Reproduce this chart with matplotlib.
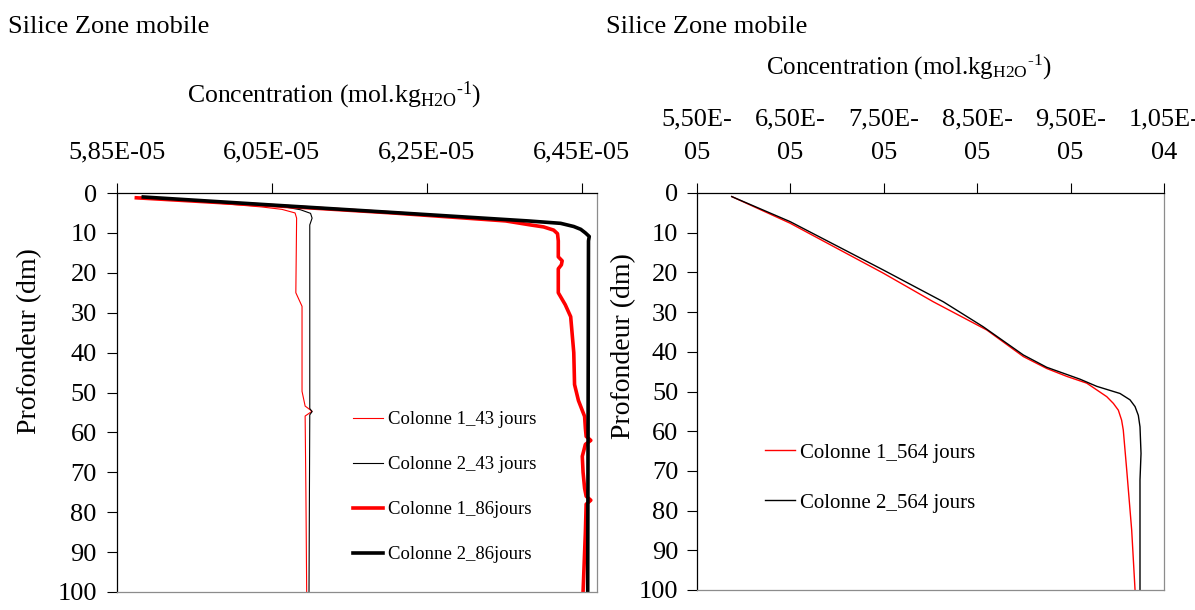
import matplotlib
matplotlib.use("Agg")
import matplotlib.pyplot as plt

plt.rcParams['font.family'] = ['Liberation Serif', 'DejaVu Serif']
plt.rcParams['mathtext.fontset'] = 'custom'
plt.rcParams['mathtext.rm'] = 'Liberation Serif'
plt.rcParams['mathtext.it'] = 'Liberation Serif:italic'

# ---------------- data: left panel (43 / 86 jours) ----------------
c1_43_depth = [1.2, 2.5, 3.5, 4.1, 5.0, 6.3, 25, 28.4, 49.7, 53.4, 54.7, 55.9, 75, 100]
c1_43_conc = [5.875e-5, 5.977e-5, 6.037e-5, 6.063e-5, 6.080e-5, 6.082e-5, 6.081e-5,
              6.089e-5, 6.089e-5, 6.093e-5, 6.102e-5, 6.093e-5, 6.094e-5, 6.095e-5]

c2_43_depth = [1.0, 2.3, 3.3, 4.2, 5.1, 6.3, 8, 54, 54.8, 55.6, 100]
c2_43_conc = [5.881e-5, 5.983e-5, 6.061e-5, 6.087e-5, 6.100e-5, 6.102e-5, 6.099e-5,
              6.099e-5, 6.102e-5, 6.099e-5, 6.098e-5]

c1_86_depth = [1.2, 3, 5, 7, 8, 8.5, 9.3, 10.2, 12, 16, 17, 18, 19, 25, 28, 31, 40, 48,
               52, 56, 59, 61, 62, 63, 66, 70, 74, 76, 77, 78, 85, 100]
c1_86_conc = [5.875e-5, 6.037e-5, 6.206e-5, 6.352e-5, 6.384e-5, 6.401e-5, 6.414e-5,
              6.419e-5, 6.420e-5, 6.420e-5, 6.425e-5, 6.424e-5, 6.420e-5, 6.420e-5,
              6.429e-5, 6.436e-5, 6.440e-5, 6.441e-5, 6.446e-5, 6.454e-5, 6.455e-5,
              6.456e-5, 6.462e-5, 6.455e-5, 6.451e-5, 6.452e-5, 6.454e-5, 6.456e-5,
              6.462e-5, 6.456e-5, 6.455e-5, 6.452e-5]

c2_86_depth = [1.0, 3, 5, 7, 7.6, 8.4, 9.1, 10, 10.9, 12, 100]
c2_86_conc = [5.884e-5, 6.049e-5, 6.216e-5, 6.381e-5, 6.423e-5, 6.440e-5, 6.449e-5,
              6.455e-5, 6.460e-5, 6.459e-5, 6.458e-5]

left_labels = ["Colonne 1_43 jours", "Colonne 2_43 jours", "Colonne 1_86jours", "Colonne 2_86jours"]
left_xticks = [5.85e-5, 6.05e-5, 6.25e-5, 6.45e-5]
left_xticklabels = ["5,85E-05", "6,05E-05", "6,25E-05", "6,45E-05"]

# ---------------- data: right panel (564 jours) ----------------
c1_564_depth = [0.9, 7.6, 20.2, 27.4, 34.5, 41.2, 44.2, 46.2, 47.9, 49.6, 51.3, 53.0,
                54.7, 57.2, 59.7, 69.8, 84.9, 100]
c1_564_conc = [5.872e-5, 6.496e-5, 7.495e-5, 8.030e-5, 8.602e-5, 8.994e-5, 9.244e-5,
               9.460e-5, 9.673e-5, 9.780e-5, 9.887e-5, 9.958e-5, 1.0011e-4, 1.0046e-4,
               1.0064e-4, 1.0101e-4, 1.0154e-4, 1.0190e-4]

c2_564_depth = [0.9, 7.2, 19.4, 27.4, 33.7, 40.8, 43.9, 46.9, 48.7, 50.5, 52.1, 53.8,
                56.0, 58.9, 65.6, 72.3, 100]
c2_564_conc = [5.872e-5, 6.496e-5, 7.495e-5, 8.137e-5, 8.565e-5, 8.994e-5, 9.244e-5,
               9.601e-5, 9.780e-5, 1.0029e-4, 1.0136e-4, 1.0190e-4, 1.0225e-4,
               1.0243e-4, 1.0254e-4, 1.0243e-4, 1.0243e-4]

right_labels = ["Colonne 1_564 jours", "Colonne 2_564 jours"]
right_xticks = [5.5e-5, 6.5e-5, 7.5e-5, 8.5e-5, 9.5e-5, 1.05e-4]
right_xticklabels = ["5,50E-\n05", "6,50E-\n05", "7,50E-\n05", "8,50E-\n05", "9,50E-\n05", "1,05E-\n04"]

yticks = [0, 10, 20, 30, 40, 50, 60, 70, 80, 90, 100]

title_text = "Silice Zone mobile"
xlabel_text = "Concentration (mol.kg$_{\\mathrm{H2O}}$$^{\\mathrm{\u20101}}$)"
ylabel_text = "Profondeur (dm)"

# ---------------- figure ----------------
W, H = 1195, 610
fig = plt.figure(figsize=(W / 100, H / 100), dpi=100)


def fx(px):
    return px / W


def fy(py):
    return 1 - py / H


def style_axes(ax, xlim, xticks, xticklabels, ylabel_pad):
    ax.set_xlim(*xlim)
    ax.set_ylim(100, 0)
    ax.xaxis.tick_top()
    ax.set_xticks(xticks)
    ax.set_xticklabels(xticklabels, fontsize=19, linespacing=1.65)
    ax.set_yticks(yticks)
    ax.set_yticklabels([str(t) for t in yticks], fontsize=19)
    ax.tick_params(axis='x', direction='out', length=7, width=0.8, pad=14, top=True, bottom=False)
    ax.tick_params(axis='y', direction='out', length=7, width=0.8, pad=ylabel_pad)
    for s in ('left', 'top'):
        ax.spines[s].set_color('black')
        ax.spines[s].set_linewidth(0.9)
    for s in ('right', 'bottom'):
        ax.spines[s].set_color('#8c8c8c')
        ax.spines[s].set_linewidth(0.9)


# left panel
ax1 = fig.add_axes([fx(117), fy(592), (597 - 117) / W, (592 - 193) / H])
ax1.plot(c1_43_conc, c1_43_depth, color='#ff0000', lw=0.8, label=left_labels[0])
ax1.plot(c2_43_conc, c2_43_depth, color='black', lw=0.8, label=left_labels[1])
ax1.plot(c1_86_conc, c1_86_depth, color='#ff0000', lw=2.6, label=left_labels[2])
ax1.plot(c2_86_conc, c2_86_depth, color='black', lw=2.6, label=left_labels[3])
style_axes(ax1, (5.85e-5, 6.47e-5), left_xticks, left_xticklabels, 7.5)
ax1.legend(loc='upper left', bbox_to_anchor=(fx(353), fy(411)), bbox_transform=fig.transFigure,
           frameon=False, fontsize=13.5, borderpad=0, borderaxespad=0, labelspacing=1.49,
           handlelength=1.6, handletextpad=0.27)

# right panel
ax2 = fig.add_axes([fx(697), fy(590), (1164 - 697) / W, (590 - 193) / H])
ax2.plot(c1_564_conc, c1_564_depth, color='#ff0000', lw=1.0, label=right_labels[0])
ax2.plot(c2_564_conc, c2_564_depth, color='black', lw=1.0, label=right_labels[1])
style_axes(ax2, (5.5e-5, 1.05e-4), right_xticks, right_xticklabels, 6.5)
ax2.legend(loc='upper left', bbox_to_anchor=(fx(765), fy(443)), bbox_transform=fig.transFigure,
           frameon=False, fontsize=15, borderpad=0, borderaxespad=0, labelspacing=1.47,
           handlelength=1.44, handletextpad=0.24)

# titles / labels
fig.text(fx(8), fy(33), title_text, fontsize=19, ha='left', va='baseline')
fig.text(fx(606), fy(33), title_text, fontsize=19, ha='left', va='baseline')
fig.text(fx(187), fy(102), xlabel_text, fontsize=18.5, ha='left', va='baseline')
fig.text(fx(766), fy(75), xlabel_text, fontsize=18, ha='left', va='baseline')
fig.text(fx(30), fy(341), ylabel_text, fontsize=20, rotation=90, ha='center', va='center')
fig.text(fx(624), fy(346), ylabel_text, fontsize=20, rotation=90, ha='center', va='center')

fig.savefig("out.png", dpi=100)
